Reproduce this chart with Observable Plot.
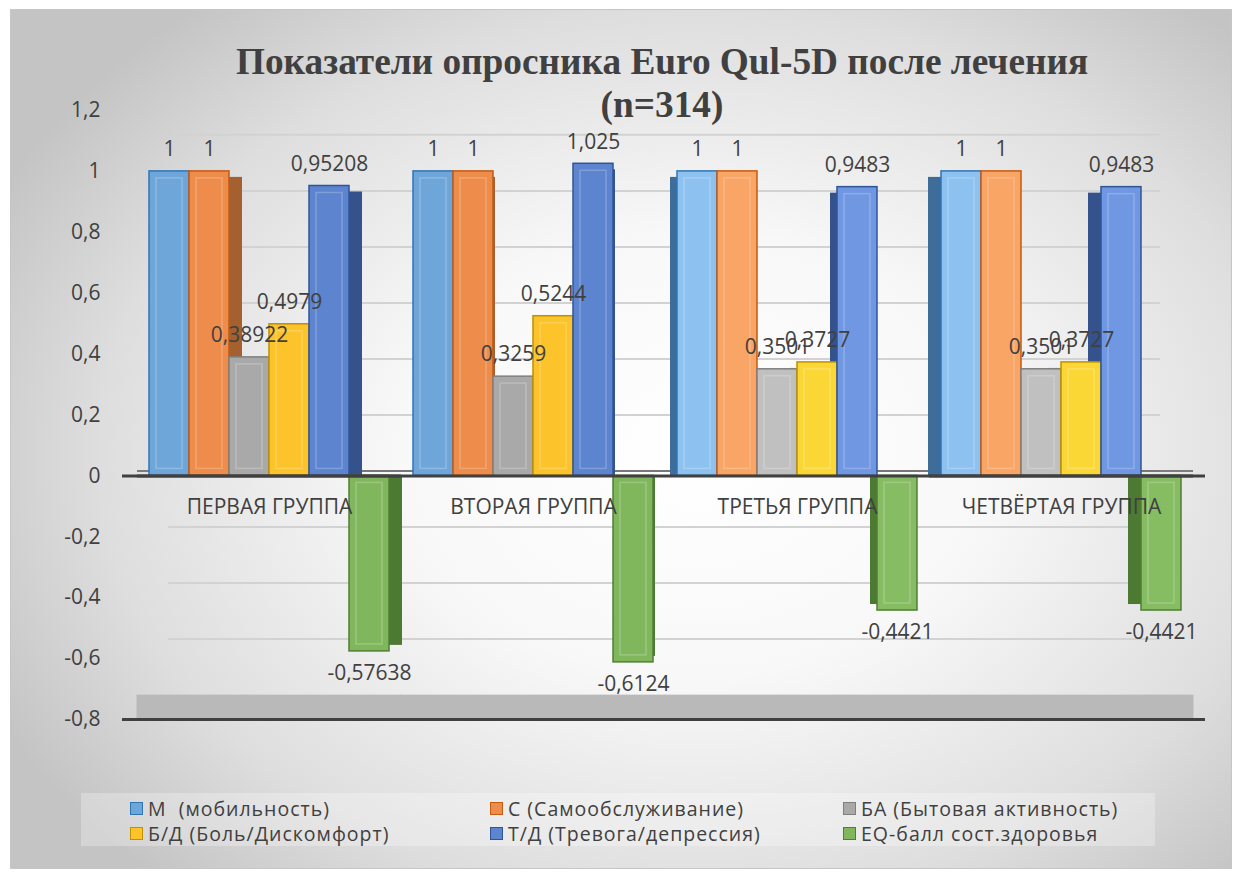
<!DOCTYPE html>
<html>
<head>
<meta charset="utf-8">
<script src="https://cdn.jsdelivr.net/npm/d3@7"></script>
<script src="https://cdn.jsdelivr.net/npm/@observablehq/plot@0.6"></script>
<style>
  body { margin: 0; background: #ffffff; }
  #wrap { position: relative; width: 1242px; height: 879px; overflow: hidden; background: #ffffff; }
  #frame { position: absolute; left: 10px; top: 9px; width: 1222px; height: 860px; box-sizing: border-box;
    border: 1px solid #c6c6c6;
    background: radial-gradient(ellipse 64% 68% at 56% 52%, #ffffff 0%, #f8f8f8 38%, #dedede 76%, #c4c4c4 100%); }
  #title { position: absolute; left: 82px; width: 1160px; top: 40px; text-align: center;
    font-family: "Liberation Serif", "Times New Roman", serif; font-weight: bold; font-size: 37.3px;
    line-height: 43px; color: #404040; }
  #chart { position: absolute; left: 0; top: 95px; }
  #legend { position: absolute; left: 81px; top: 793px; width: 1074px; height: 53px; background: rgba(255,255,255,0.28); }
  .item { position: absolute; display: flex; align-items: center; height: 20px;
    font-family: "Open Sans", sans-serif; font-size: 19.5px; letter-spacing: 1px; color: #404040; white-space: pre; }
  .sw { width: 11px; height: 11px; border: 1.5px solid; margin-right: 5px; flex: none; }
</style>
</head>
<body>
<div id="wrap">
  <div id="frame"></div>
  <div id="chart"></div>
  <div id="title"></div>
  <div id="legend"></div>
</div>
<script>
// ---------- data ----------
const titleLines = ["Показатели опросника Euro Qul-5D после лечения", "(n=314)"];
const groups = ["ПЕРВАЯ ГРУППА", "ВТОРАЯ ГРУППА", "ТРЕТЬЯ ГРУППА", "ЧЕТВЁРТАЯ ГРУППА"];
const series = ["М  (мобильность)", "С (Самообслуживание)", "БА (Бытовая активность)",
                "Б/Д (Боль/Дискомфорт)", "Т/Д (Тревога/депрессия)", "EQ-балл сост.здоровья"];
const valuesM  = [1, 1, 1, 1];
const valuesC  = [1, 1, 1, 1];
const valuesBA = [0.38922, 0.3259, 0.3501, 0.3501];
const valuesBD = [0.4979, 0.5244, 0.3727, 0.3727];
const valuesTD = [0.95208, 1.025, 0.9483, 0.9483];
const valuesEQ = [-0.57638, -0.6124, -0.4421, -0.4421];
const yTicks = [-0.8, -0.6, -0.4, -0.2, 0, 0.2, 0.4, 0.6, 0.8, 1, 1.2];

// ---------- styles ----------
const fillA   = ["#6ea6da", "#ee8c4c", "#a9a9a9", "#fcc42a", "#5d84cf", "#80b75c"]; // groups 1–2
const fillB   = ["#8dc2f0", "#f9a566", "#c0c0c0", "#fbd735", "#6f97e2", "#86bc62"]; // groups 3–4
const strokes = ["#2e75b6", "#c55a11", "#7f7f7f", "#bf9000", "#2f5597", "#507e34"];
const sides   = ["#3f6d99", "#a5602f", "#8a8a8a", "#c7981c", "#36528c", "#4d7a33"];
const sideDx  = [13, 2, -7, -13];
// perspective of the back wall relative to the front of the value axis
const backScale = 0.92, backShift = 0.016;
const toBack = t => t * backScale + backShift;

const allValues = [valuesM, valuesC, valuesBA, valuesBD, valuesTD, valuesEQ];
const table = groups.flatMap((g, gi) => series.map((s, si) => ({
  group: g, gi, series: s, si, value: allValues[si][gi]
})));

const fmt = v => String(v).replace(".", ",");

document.getElementById("title").innerHTML = titleLines.map(t => `<div>${t}</div>`).join("");

// side faces (pseudo-3D depth)
const sideMarks = [];
groups.forEach((g, gi) => {
  const pos = table.filter(d => d.gi === gi && d.value >= 0);
  const neg = table.filter(d => d.gi === gi && d.value < 0);
  sideMarks.push(Plot.barY(pos, {fx: "group", x: "series", y: "value", dx: sideDx[gi], dy: 6, insetBottom: 6,
    fill: d => sides[d.si]}));
  sideMarks.push(Plot.barY(neg, {fx: "group", x: "series", y: "value", dx: sideDx[gi], dy: -6, insetTop: 6,
    fill: d => sides[d.si]}));
});

// back-wall grid rows, one set per facet
const gridRows = groups.flatMap((g, gi) => yTicks.filter(t => t !== yTicks[0]).map(t => ({group: g, gi, v: toBack(t)})));
const floorTop = toBack(yTicks[0]);
const lastGi = groups.length - 1;
const edgeRows = v => [{group: groups[0], gi: 0, v}, {group: groups[lastGi], gi: lastGi, v}];
const gridStyle = {fx: "group", y: "v", stroke: "#d2d2d2", strokeWidth: 2};
const axisStyle = {fx: "group", y: "v", stroke: "#404040", strokeWidth: 3};

const chart = Plot.plot({
  width: 1242,
  height: 640,
  marginLeft: 137,
  marginRight: 49,
  marginTop: 15,
  marginBottom: 16,
  style: {background: "transparent", fontFamily: "'Open Sans', sans-serif", fontSize: "21px", color: "#404040", overflow: "visible"},
  fx: {domain: groups, padding: 0, axis: null},
  x: {domain: series, paddingInner: 0, paddingOuter: 0.3, axis: null},
  y: {domain: [-0.8, 1.2], ticks: yTicks, tickFormat: fmt, tickSize: 0, tickPadding: 37, label: null},
  color: {type: "identity"},
  marks: [
    // back-wall grid
    Plot.ruleY(gridRows.filter(d => d.gi === 0), {...gridStyle, insetLeft: 31}),
    Plot.ruleY(gridRows.filter(d => d.gi > 0 && d.gi < lastGi), gridStyle),
    Plot.ruleY(gridRows.filter(d => d.gi === lastGi), {...gridStyle, insetRight: 33}),
    // back-wall baseline
    Plot.ruleY([toBack(0)], {stroke: "#595959", strokeWidth: 1.5}),
    // floor
    Plot.rect([0], {y1: yTicks[0], y2: floorTop, fill: "#b9b9b9", insetLeft: -0.5, insetRight: -0.5}),
    Plot.ruleY([yTicks[0]], {stroke: "#404040", strokeWidth: 3}),
    Plot.ruleY(edgeRows(yTicks[0]).slice(0, 1), {...axisStyle, insetLeft: -15}),
    Plot.ruleY(edgeRows(yTicks[0]).slice(1), {...axisStyle, insetRight: -12}),
    // side faces
    ...sideMarks,
    // front faces
    Plot.barY(table, {fx: "group", x: "series", y: "value",
      fill: d => (d.gi < 2 ? fillA : fillB)[d.si], stroke: d => strokes[d.si], strokeWidth: 1.5}),
    Plot.barY(table, {fx: "group", x: "series", y: "value", inset: 7,
      fill: "none", stroke: "#ffffff", strokeOpacity: 0.22, strokeWidth: 1.5}),
    // zero axis line
    Plot.ruleY([0], {stroke: "#404040", strokeWidth: 3}),
    Plot.ruleY(edgeRows(0).slice(0, 1), {...axisStyle, insetLeft: -15}),
    Plot.ruleY(edgeRows(0).slice(1), {...axisStyle, insetRight: -12}),
    // category labels
    Plot.text(groups, {fx: d => d, y: () => 0, text: d => d, dy: 31, fontSize: 21, fill: "#404040"}),
    // data labels
    Plot.text(table.filter(d => d.value >= 0), {fx: "group", x: "series", y: "value",
      text: d => fmt(d.value), dy: -22, fontSize: 21, fill: "#404040"}),
    Plot.text(table.filter(d => d.value < 0), {fx: "group", x: "series", y: "value",
      text: d => fmt(d.value), dy: 22, fontSize: 21, fill: "#404040"})
  ]
});
document.getElementById("chart").appendChild(chart);

// legend
const colX = [49, 409, 762];
const rowY = [5, 30];
const legend = document.getElementById("legend");
series.forEach((s, i) => {
  const item = document.createElement("div");
  item.className = "item";
  item.style.left = colX[i % 3] + "px";
  item.style.top = rowY[Math.floor(i / 3)] + "px";
  item.innerHTML = `<span class="sw" style="background:${fillA[i]};border-color:${strokes[i]}"></span><span>${s}</span>`;
  legend.appendChild(item);
});
</script>
</body>
</html>
